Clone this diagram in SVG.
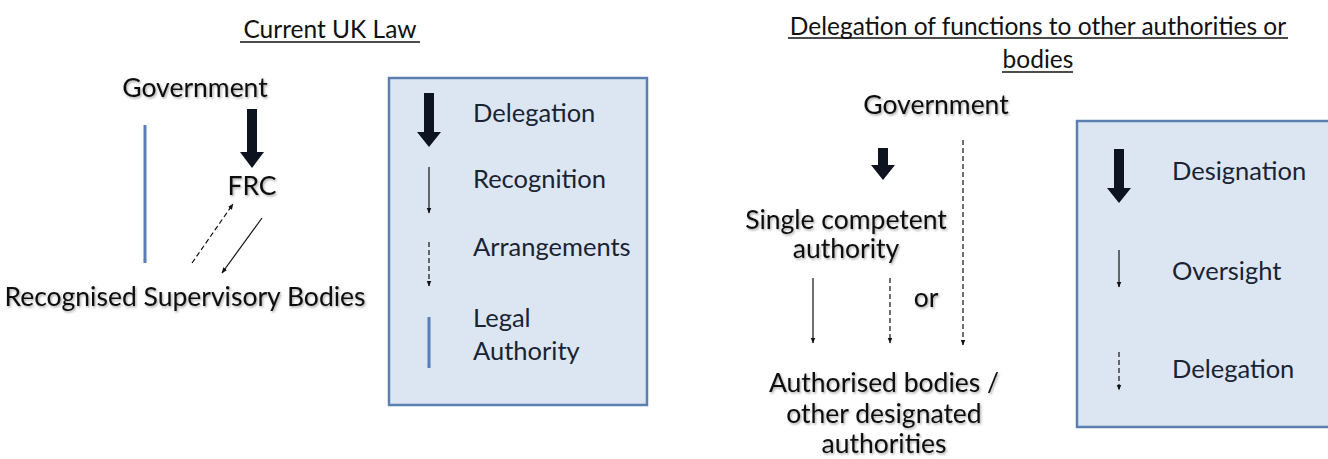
<svg xmlns="http://www.w3.org/2000/svg" width="1328" height="459" viewBox="0 0 1328 459">
<style>
text{font-family:Lato,"Open Sans","Liberation Sans",sans-serif;fill:#111;}
.title{font-size:24.5px;text-anchor:middle;}
.node{font-size:26.5px;text-anchor:middle;filter:url(#sh);}
.leg{font-size:25.5px;fill:#1a2333;}
.ul{stroke:#111;stroke-width:1.5;}
.box{fill:#dce6f2;stroke:#5b7fae;stroke-width:2.5;}
.thin{stroke:#111;stroke-width:1.2;fill:none;marker-end:url(#ah);}
.dash{stroke:#111;stroke-width:1.2;fill:none;stroke-dasharray:5 3;marker-end:url(#ah);}
.legal{stroke:#5a7fb8;stroke-width:3;fill:none;marker-end:url(#bh);}
.thick{fill:#0d1420;}
</style>
<defs>
<filter id="sh" x="-10%" y="-20%" width="130%" height="150%">
<feDropShadow dx="1.2" dy="1.5" stdDeviation="0.8" flood-color="#000" flood-opacity="0.35"/>
</filter>
<marker id="ah" viewBox="0 0 10 10" refX="9" refY="5" markerWidth="6" markerHeight="6" orient="auto" markerUnits="userSpaceOnUse">
<path d="M0,1 L10,5 L0,9 Z" fill="#111"/>
</marker>
<marker id="bh" viewBox="0 0 10 10" refX="9" refY="5" markerWidth="4" markerHeight="4" orient="auto" markerUnits="userSpaceOnUse">
<path d="M0,1 L10,5 L0,9 Z" fill="#5a7fb8"/>
</marker>
</defs>

<g id="title-left">
<text class="title" x="330" y="38">Current UK Law</text>
<line class="ul" x1="240" y1="42" x2="420" y2="42"/>
</g>
<g id="title-right">
<text class="title" x="1038" y="35">Delegation of functions to other authorities or</text>
<line class="ul" x1="788" y1="38" x2="1288" y2="38"/>
<text class="title" x="1038" y="68">bodies</text>
<line class="ul" x1="1002" y1="72" x2="1073" y2="72"/>
</g>

<g id="gov-left"><text class="node" x="195" y="97">Government</text></g>
<g id="frc"><text class="node" x="252" y="195">FRC</text></g>
<g id="rsb"><text class="node" x="185" y="306">Recognised Supervisory Bodies</text></g>

<g id="legend-left">
<rect class="box" x="389" y="78" width="258" height="327"/>
<polygon class="thick" points="424,93 434,93 434,132 441,132 429,147 417,132 424,132"/>
<text class="leg" x="473" y="122">Delegation</text>
<line class="thin" x1="429" y1="167" x2="429" y2="213"/>
<text class="leg" x="473" y="188">Recognition</text>
<line class="dash" x1="429" y1="242" x2="429" y2="286"/>
<text class="leg" x="473" y="256">Arrangements</text>
<line class="legal" x1="429" y1="317" x2="429" y2="368"/>
<text class="leg" x="473" y="327">Legal</text>
<text class="leg" x="473" y="360">Authority</text>
</g>

<g id="gov-right"><text class="node" x="936" y="114">Government</text></g>
<g id="sca"><text class="node" x="846" y="229">Single competent</text><text class="node" x="846" y="258">authority</text></g>
<g id="or"><text class="node" x="926" y="307">or</text></g>
<g id="abodies"><text class="node" x="884" y="392">Authorised bodies /</text><text class="node" x="884" y="423">other designated</text><text class="node" x="884" y="453">authorities</text></g>

<g id="legend-right">
<rect class="box" x="1077" y="121" width="260" height="306"/>
<polygon class="thick" points="1114,149 1124,149 1124,188 1131,188 1119,203 1107,188 1114,188"/>
<text class="leg" x="1172" y="180">Designation</text>
<line class="thin" x1="1119" y1="250" x2="1119" y2="287"/>
<text class="leg" x="1172" y="280">Oversight</text>
<line class="dash" x1="1119" y1="352" x2="1119" y2="390"/>
<text class="leg" x="1172" y="378">Delegation</text>
</g>

<g id="connectors">
<line class="legal" x1="145" y1="125" x2="145" y2="263"/>
<polygon class="thick" points="247,109 257,109 257,152 264,152 252,168 240,152 247,152"/>
<line class="dash" x1="192" y1="263" x2="233" y2="204"/>
<line class="thin" x1="262" y1="218" x2="222" y2="273"/>
<polygon class="thick" points="878,148 888,148 888,165 895,165 883,180 871,165 878,165"/>
<line class="thin" x1="813" y1="278" x2="813" y2="343"/>
<line class="dash" x1="890" y1="278" x2="890" y2="343"/>
<line class="dash" x1="963" y1="140" x2="963" y2="345"/>
</g>
</svg>
